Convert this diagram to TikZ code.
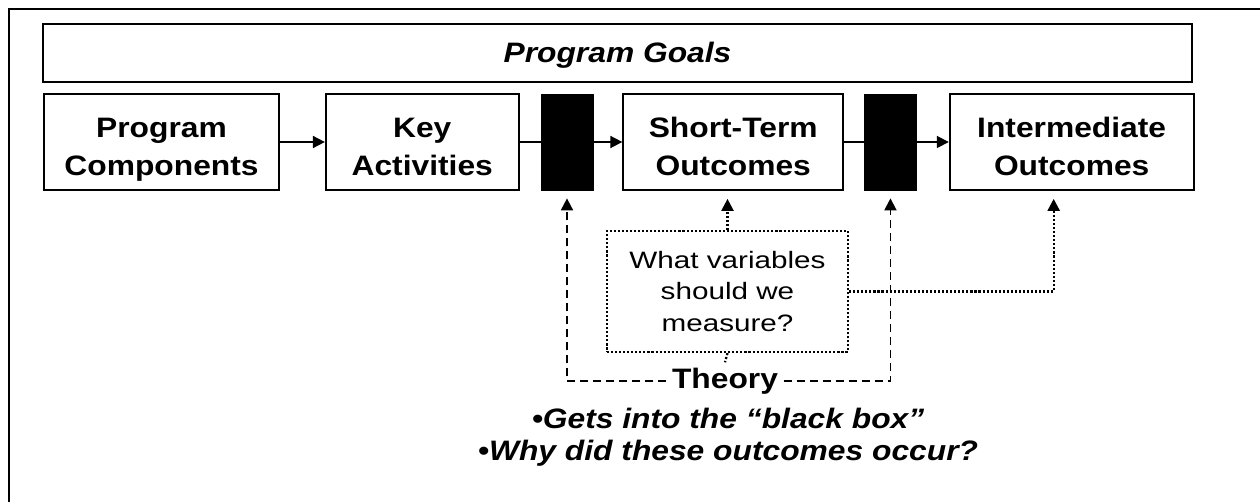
\documentclass[tikz,border=0pt]{standalone}
\usepackage{fontspec}
\setmainfont{Liberation Sans}[FakeStretch=1.13]
\newfontfamily\queryfont{Liberation Sans}[FakeStretch=1.25]
\usepackage{tikz}
\usetikzlibrary{positioning,arrows.meta}

% two centred lines, set a little below the middle of the box
\newcommand{\twolines}[1]{\raisebox{-0.14cm}[\height][\depth]{\begin{tabular}{@{}c@{}}#1\end{tabular}}}

\tikzset{
  stage/.style={draw, line width=1pt, minimum height=1.92cm,
    font=\fontsize{16}{21.5}\selectfont\bfseries, inner sep=0pt},
  blackbox/.style={draw, fill=black, minimum width=1.04cm, minimum height=1.92cm, inner sep=0pt},
  flow/.style={line width=1pt, -{Triangle[width=0.24cm,length=0.24cm]}},
  link/.style={line width=1pt},
  dashlink/.style={line width=1pt, dash pattern=on 0.16cm off 0.1cm},
  dotlink/.style={line width=1.3pt, dash pattern=on 1.2pt off 1.1pt},
}

\begin{document}
\begin{tikzpicture}
  \useasboundingbox (0,0) rectangle (25.2,10.04);
  % frame
  \draw[line width=1.2pt] (0.18,0) -- (0.18,9.86) -- (25.2,9.86);

  \node (goals) [draw, line width=1pt, minimum width=22.98cm, minimum height=1.16cm,
    font=\fontsize{16}{20}\selectfont\bfseries\itshape] at (12.35,8.98)
    {\rule{0pt}{0.5cm}Program Goals};

  % the chain of stages
  \node (comp) [stage, minimum width=4.7cm] at (3.23,7.2) {\twolines{Program\\Components}};
  \node (act)   [stage, minimum width=3.86cm, right=0.9cm of comp] {\twolines{Key\\Activities}};
  \node (bb1)   [blackbox, right=0.42cm of act] {};
  \node (short) [stage, minimum width=4.4cm, right=0.58cm of bb1] {\twolines{Short-Term\\Outcomes}};
  \node (bb2)   [blackbox, right=0.4cm of short] {};
  \node (inter) [stage, minimum width=4.88cm, right=0.64cm of bb2] {\twolines{Intermediate\\Outcomes}};

  \draw[flow] (comp) -- (act);
  \draw[link] (act) -- (bb1);
  \draw[flow] (bb1) -- (short);
  \draw[link] (short) -- (bb2);
  \draw[flow] (bb2) -- (inter);

  % measurement question
  \node (query) [draw, dotlink, minimum width=4.82cm, minimum height=2.42cm,
    align=center, font=\fontsize{13.5}{18}\selectfont\queryfont] at (14.55,4.21)
    {What variables\\should we\\measure?};
  \node (theory) [font=\fontsize{16}{20}\selectfont\bfseries, inner sep=3pt] at (14.5,2.42) {Theory};
  \node (why) [align=center, font=\fontsize{16}{18}\selectfont\bfseries\itshape] at (14.56,1.3)
    {\textbullet Gets into the “black box”\\\textbullet Why did these outcomes occur?};

  \coordinate (tip1) at ([yshift=-0.16cm]bb1.south);
  \coordinate (tip2) at ([yshift=-0.16cm]bb2.south);
  \coordinate (tip3) at ([yshift=-0.16cm]short.south);
  \coordinate (tip4) at ([xshift=-0.36cm,yshift=-0.16cm]inter.south);

  \draw[flow, dashlink] (theory.west) -| (tip1);
  \draw[flow, dashlink] (theory.east) -| (tip2);
  \draw[flow, dotlink] (query.north) -- (query.north |- tip3);
  \draw[flow, dotlink] (query.east) -| (tip4);
  \draw[dotlink] (query.south) -- (theory.north);
\end{tikzpicture}
\end{document}
